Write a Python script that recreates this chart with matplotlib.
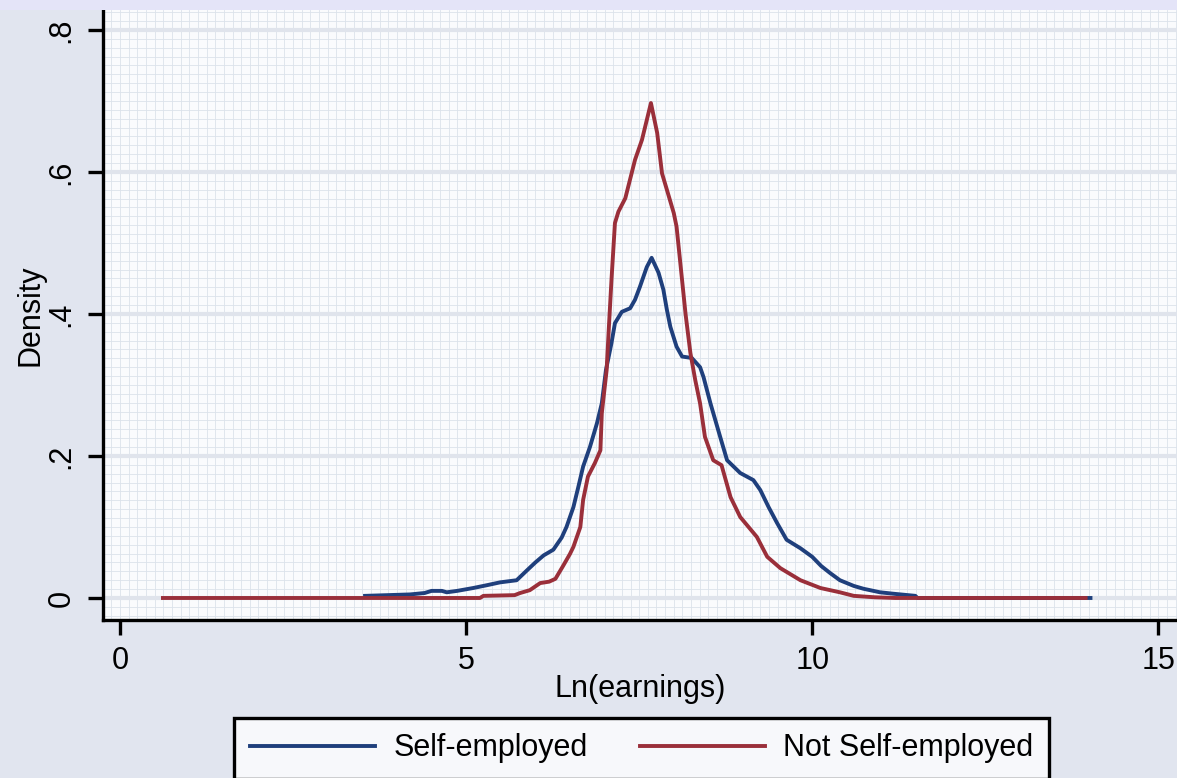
import matplotlib
matplotlib.use("Agg")
import matplotlib.pyplot as plt
from matplotlib.ticker import MultipleLocator, FixedLocator
from matplotlib.patches import Rectangle

# ---- data ----
self_x = [3.54, 4.19, 4.40, 4.50, 4.65, 4.72, 4.87, 5.10, 5.30, 5.49, 5.73, 5.88,
          6.00, 6.12, 6.26, 6.38, 6.45, 6.55, 6.62, 6.69, 6.79, 6.89, 6.96, 7.02,
          7.10, 7.15, 7.25, 7.37, 7.44, 7.51, 7.61, 7.68, 7.78, 7.85, 7.90, 7.95,
          8.04, 8.12, 8.26, 8.38, 8.43, 8.53, 8.67, 8.77, 8.96, 9.15, 9.25, 9.37,
          9.49, 9.63, 9.83, 10.00, 10.13, 10.26, 10.40, 10.50, 10.60, 10.74, 10.98,
          11.17, 11.49, 11.52, 14.02]
self_y = [0.003, 0.005, 0.007, 0.010, 0.010, 0.008, 0.010, 0.014, 0.018, 0.022, 0.025, 0.039,
          0.050, 0.060, 0.068, 0.085, 0.100, 0.128, 0.156, 0.185, 0.213, 0.246, 0.274, 0.321,
          0.359, 0.387, 0.403, 0.408, 0.420, 0.438, 0.466, 0.479, 0.458, 0.434, 0.406, 0.382,
          0.354, 0.340, 0.338, 0.325, 0.311, 0.274, 0.227, 0.194, 0.176, 0.166, 0.152, 0.128,
          0.106, 0.082, 0.070, 0.058, 0.045, 0.035, 0.025, 0.021, 0.017, 0.013, 0.008,
          0.006, 0.003, 0.000, 0.000]

notself_x = [0.62, 5.20, 5.25, 5.70, 5.78, 5.92, 6.07, 6.20, 6.29, 6.40, 6.50, 6.55,
             6.65, 6.69, 6.76, 6.86, 6.94, 6.96, 7.03, 7.06, 7.10, 7.15, 7.20, 7.30,
             7.44, 7.54, 7.67, 7.76, 7.83, 7.90, 8.00, 8.04, 8.09, 8.17, 8.24, 8.31,
             8.38, 8.45, 8.57, 8.69, 8.82, 8.96, 9.20, 9.35, 9.54, 9.83, 10.12, 10.40,
             10.60, 10.90, 11.20, 13.95]
notself_y = [0.000, 0.000, 0.003, 0.004, 0.007, 0.011, 0.021, 0.023, 0.027, 0.045, 0.062, 0.072,
             0.100, 0.138, 0.171, 0.190, 0.208, 0.260, 0.321, 0.377, 0.448, 0.528, 0.544, 0.563,
             0.617, 0.645, 0.697, 0.655, 0.598, 0.575, 0.542, 0.523, 0.476, 0.400, 0.345, 0.307,
             0.274, 0.227, 0.194, 0.187, 0.142, 0.114, 0.086, 0.058, 0.042, 0.025, 0.014, 0.008,
             0.003, 0.001, 0.000, 0.000]

series_labels = ["Self-employed", "Not Self-employed"]
x_ticks = [0, 5, 10, 15]
x_ticklabels = ["0", "5", "10", "15"]
y_ticks = [0, 0.2, 0.4, 0.6, 0.8]
y_ticklabels = ["0", ".2", ".4", ".6", ".8"]

# ---- style ----
plt.rcParams['font.family'] = ['Liberation Sans', 'DejaVu Sans']
FS = 22
W, H = 1177, 778
fig = plt.figure(figsize=(W / 100, H / 100), dpi=100, facecolor='#E1E5EF')
fig.patches.append(Rectangle((0, 1 - 10 / H), 1, 10 / H, transform=fig.transFigure,
                             facecolor='#E4E4F8', edgecolor='none', zorder=0))

ax_l, ax_r, ax_t, ax_b = 103, 1177, 10, 620
ax = fig.add_axes([ax_l / W, 1 - ax_b / H, (ax_r - ax_l) / W, (ax_b - ax_t) / H])
ax.set_facecolor('#FAFBFD')

c_blue = '#1F3F7C'
c_red = '#9A2F3A'
ax.plot(self_x, self_y, color=c_blue, lw=2.8, label=series_labels[0], zorder=3)
ax.plot(notself_x, notself_y, color=c_red, lw=2.8, label=series_labels[1], zorder=4)

ax.set_xlim(-0.246, 15.27)
ax.set_ylim(-0.031, 0.828)

ax.xaxis.set_major_locator(FixedLocator(x_ticks))
ax.set_xticklabels(x_ticklabels)
ax.yaxis.set_major_locator(FixedLocator(y_ticks))
ax.set_yticklabels(y_ticklabels)
ax.xaxis.set_minor_locator(MultipleLocator(0.125))
ax.yaxis.set_minor_locator(MultipleLocator(0.0125))

ax.grid(which='minor', color='#DCE2EB', lw=0.6, zorder=0)
ax.grid(which='major', axis='x', color='#DCE2EB', lw=0.6, zorder=0)
ax.grid(which='major', axis='y', color='#E0E4EC', lw=3.0, zorder=1)
ax.set_axisbelow(True)

for s in ['top', 'right']:
    ax.spines[s].set_visible(False)
for s in ['left', 'bottom']:
    ax.spines[s].set_linewidth(2.4)
    ax.spines[s].set_color('black')

ax.tick_params(which='minor', length=0)
ax.tick_params(which='major', length=11, width=2.4, color='black', labelsize=FS,
               direction='out')
ax.tick_params(axis='x', pad=8)
ax.tick_params(axis='y', pad=8)
for lab in ax.get_yticklabels():
    lab.set_rotation(90)
    lab.set_va('center')
    lab.set_ha('right')

ax.set_xlabel("Ln(earnings)", fontsize=FS)
ax.xaxis.set_label_coords(0.5, (ax_b - 674) / (ax_b - ax_t))
ax.set_ylabel("Density", fontsize=FS)
ax.yaxis.set_label_coords((46 - ax_l) / (ax_r - ax_l), 0.5)

leg = fig.legend(loc='upper center', bbox_to_anchor=(641.5 / W, 1 - 718 / H),
                 ncol=2, fontsize=FS, handlelength=4.1, handletextpad=0.6,
                 columnspacing=1.7, borderpad=0.5, borderaxespad=0.0,
                 frameon=True, fancybox=False, framealpha=1.0)
leg.get_frame().set_facecolor('#F7F8FB')
leg.get_frame().set_edgecolor('black')
leg.get_frame().set_linewidth(2.4)

fig.savefig("out.png", dpi=100, facecolor=fig.get_facecolor())
